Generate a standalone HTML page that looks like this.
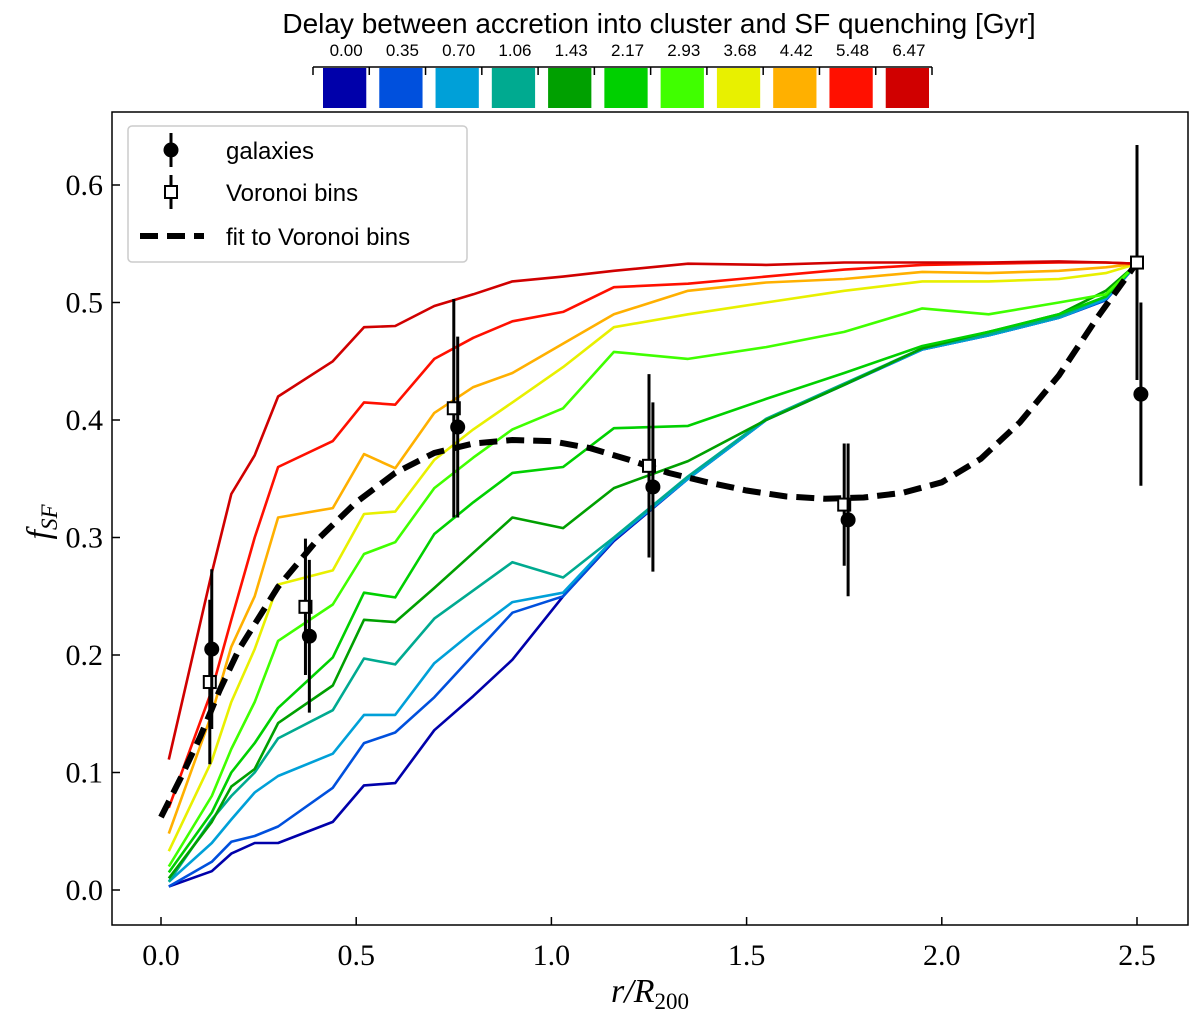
<!DOCTYPE html>
<html><head><meta charset="utf-8">
<style>
html,body{margin:0;padding:0;background:#fff;}
svg{display:block;}
</style></head>
<body>
<svg id="chart" width="1200" height="1014" viewBox="0 0 1200 1014" xmlns="http://www.w3.org/2000/svg"></svg>
<script>
const xGrid = [0.02,0.13,0.18,0.24,0.30,0.44,0.52,0.60,0.70,0.80,0.90,1.03,1.16,1.35,1.55,1.75,1.95,2.12,2.30,2.42,2.50];
const s0 = [0.003,0.016,0.031,0.040,0.040,0.058,0.089,0.091,0.136,0.165,0.196,0.250,0.297,0.350,0.400,0.430,0.460,0.472,0.487,0.502,0.533];
const s1 = [0.003,0.024,0.041,0.046,0.054,0.087,0.125,0.134,0.164,0.200,0.236,0.250,0.298,0.350,0.400,0.430,0.460,0.472,0.487,0.502,0.533];
const s2 = [0.007,0.040,0.060,0.083,0.097,0.116,0.149,0.149,0.193,0.220,0.245,0.253,0.299,0.350,0.400,0.430,0.460,0.472,0.487,0.503,0.533];
const s3 = [0.007,0.060,0.080,0.100,0.129,0.153,0.197,0.192,0.231,0.255,0.279,0.266,0.300,0.352,0.401,0.431,0.461,0.473,0.488,0.505,0.533];
const s4 = [0.010,0.058,0.088,0.103,0.142,0.174,0.230,0.228,0.257,0.287,0.317,0.308,0.342,0.365,0.400,0.430,0.461,0.475,0.490,0.510,0.533];
const s5 = [0.015,0.066,0.100,0.125,0.155,0.198,0.253,0.249,0.303,0.330,0.355,0.360,0.393,0.395,0.418,0.440,0.463,0.475,0.490,0.505,0.533];
const s6 = [0.020,0.080,0.120,0.160,0.212,0.243,0.286,0.296,0.342,0.368,0.392,0.410,0.458,0.452,0.462,0.475,0.495,0.490,0.500,0.507,0.533];
const s7 = [0.033,0.110,0.160,0.205,0.260,0.272,0.320,0.322,0.366,0.392,0.415,0.445,0.479,0.490,0.500,0.510,0.518,0.518,0.520,0.525,0.533];
const s8 = [0.048,0.150,0.207,0.250,0.317,0.325,0.371,0.359,0.406,0.428,0.440,0.465,0.490,0.510,0.517,0.520,0.526,0.525,0.527,0.530,0.533];
const s9 = [0.070,0.170,0.230,0.300,0.360,0.382,0.415,0.413,0.452,0.470,0.484,0.492,0.513,0.516,0.522,0.528,0.532,0.533,0.534,0.534,0.533];
const s10 = [0.111,0.270,0.337,0.370,0.420,0.450,0.479,0.480,0.497,0.507,0.518,0.522,0.527,0.533,0.532,0.534,0.534,0.534,0.535,0.534,0.533];
const seriesColors = ['#0000aa','#0050dd','#00a0d8','#00aa90','#00a000','#00d000','#40ff00','#e8f000','#ffb000','#ff1000','#d00000'];
const delayLabels = ['0.00','0.35','0.70','1.06','1.43','2.17','2.93','3.68','4.42','5.48','6.47'];
const galX = [0.13,0.38,0.76,1.26,1.76,2.51];
const galY = [0.205,0.216,0.394,0.343,0.315,0.422];
const galErr = [0.068,0.065,0.077,0.072,0.065,0.078];
const vorX = [0.125,0.37,0.75,1.25,1.75,2.50];
const vorY = [0.177,0.241,0.410,0.361,0.328,0.534];
const vorErr = [0.070,0.058,0.093,0.078,0.052,0.100];
const fitX = [0.0,0.05,0.1,0.15,0.2,0.3,0.4,0.5,0.6,0.7,0.8,0.9,1.0,1.1,1.2,1.3,1.4,1.5,1.6,1.7,1.8,1.9,2.0,2.1,2.2,2.3,2.4,2.5];
const fitY = [0.062,0.095,0.130,0.170,0.205,0.258,0.298,0.330,0.355,0.372,0.380,0.383,0.382,0.376,0.366,0.355,0.347,0.340,0.335,0.333,0.334,0.338,0.347,0.367,0.398,0.438,0.488,0.534];
const xTicks = [0.0,0.5,1.0,1.5,2.0,2.5];
const yTicks = [0.0,0.1,0.2,0.3,0.4,0.5,0.6];

const NS='http://www.w3.org/2000/svg';
const svg=document.getElementById('chart');
const L=112,R=1188,T=112,B=925;
const sx=v=>161+v*390.4;
const sy=v=>890-v*1175;
function mk(tag,attrs,parent){const e=document.createElementNS(NS,tag);for(const k in attrs)e.setAttribute(k,attrs[k]);(parent||svg).appendChild(e);return e;}

const frame=mk('rect',{x:L,y:T,width:R-L,height:B-T,fill:'none',stroke:'#000','stroke-width':1.5});



xTicks.forEach(t=>{
  const g=mk('g',{});
  
  
  mk('line',{x1:sx(t),x2:sx(t),y1:B,y2:B-8,stroke:'#000','stroke-width':1.5},g);
  const tx=mk('text',{x:sx(t),y:B+40,'text-anchor':'middle','font-family':'Liberation Serif, serif','font-size':30},g);
  tx.textContent=t.toFixed(1);
});
yTicks.forEach(t=>{
  const g=mk('g',{});
  
  
  mk('line',{x1:L,x2:L+8,y1:sy(t),y2:sy(t),stroke:'#000','stroke-width':1.5},g);
  const tx=mk('text',{x:L-9,y:sy(t)+10,'text-anchor':'end','font-family':'Liberation Serif, serif','font-size':30},g);
  tx.textContent=t.toFixed(1);
});
const xl=mk('text',{x:650,y:1002,'text-anchor':'middle','font-family':'Liberation Serif, serif','font-size':34,'font-style':'italic'});


xl.innerHTML='r/R<tspan font-size="23" dy="7" font-style="normal">200</tspan>';
const yl=mk('text',{x:0,y:0,'text-anchor':'middle','font-family':'Liberation Serif, serif','font-size':34,'font-style':'italic',transform:'translate(50,522) rotate(-90)'});


yl.innerHTML='f<tspan font-size="23" dy="7">SF</tspan>';

const allSeries=[s0,s1,s2,s3,s4,s5,s6,s7,s8,s9,s10];
allSeries.forEach((s,i)=>{
  const d=s.map((v,j)=>(j?'L':'M')+sx(xGrid[j]).toFixed(1)+','+sy(v).toFixed(1)).join(' ');
  const p=mk('path',{d:d,fill:'none',stroke:seriesColors[i],'stroke-width':2.6,'stroke-linejoin':'round'});
  
  
});

const fd=fitY.map((v,j)=>(j?'L':'M')+sx(fitX[j]).toFixed(1)+','+sy(v).toFixed(1)).join(' ');
const fp=mk('path',{d:fd,fill:'none',stroke:'#000','stroke-width':6,'stroke-dasharray':'18,9'});



vorX.forEach((x,i)=>{
  const g=mk('g',{});
  
  
  mk('line',{x1:sx(x),x2:sx(x),y1:sy(vorY[i]-vorErr[i]),y2:sy(vorY[i]+vorErr[i]),stroke:'#000','stroke-width':3},g);
  mk('rect',{x:sx(x)-6,y:sy(vorY[i])-6,width:12,height:12,fill:'#fff',stroke:'#000','stroke-width':2},g);
});
galX.forEach((x,i)=>{
  const g=mk('g',{});
  
  
  mk('line',{x1:sx(x),x2:sx(x),y1:sy(galY[i]-galErr[i]),y2:sy(galY[i]+galErr[i]),stroke:'#000','stroke-width':3},g);
  mk('circle',{cx:sx(x),cy:sy(galY[i]),r:7.5,fill:'#000'},g);
});

const lg=mk('g',{});


mk('rect',{x:128,y:126,width:339,height:136,rx:4,fill:'#fff',stroke:'#ccc','stroke-width':1.5},lg);
const le1=mk('g',{},lg);


mk('line',{x1:171,x2:171,y1:133,y2:167,stroke:'#000','stroke-width':3},le1);
mk('circle',{cx:171,cy:150,r:7.5,fill:'#000'},le1);
mk('text',{x:226,y:159,'font-family':'Liberation Sans, sans-serif','font-size':24},le1).textContent='galaxies';
const le2=mk('g',{},lg);


mk('line',{x1:171,x2:171,y1:175,y2:209,stroke:'#000','stroke-width':3},le2);
mk('rect',{x:165,y:186,width:12,height:12,fill:'#fff',stroke:'#000','stroke-width':2},le2);
mk('text',{x:226,y:201,'font-family':'Liberation Sans, sans-serif','font-size':24},le2).textContent='Voronoi bins';
const le3=mk('g',{},lg);


mk('line',{x1:140,x2:204,y1:236,y2:236,stroke:'#000','stroke-width':6,'stroke-dasharray':'18,9'},le3);
mk('text',{x:226,y:245,'font-family':'Liberation Sans, sans-serif','font-size':24},le3).textContent='fit to Voronoi bins';

const cb=mk('g',{});


const ct=mk('text',{x:659,y:33,'text-anchor':'middle','font-family':'Liberation Sans, sans-serif','font-size':28},cb);
ct.textContent='Delay between accretion into cluster and SF quenching [Gyr]';

mk('line',{x1:313,x2:932,y1:67,y2:67,stroke:'#000','stroke-width':1.5},cb);
const step=(932-313)/11;
for(let k=0;k<=11;k++){mk('line',{x1:313+k*step,x2:313+k*step,y1:67,y2:75,stroke:'#000','stroke-width':1.5},cb);}
seriesColors.forEach((c,i)=>{
  const r=mk('rect',{x:313+i*step+10,y:68,width:step-13,height:40,fill:c},cb);
  
  
  const t=mk('text',{x:313+i*step+step/2+5,y:56,'text-anchor':'middle','font-family':'Liberation Sans, sans-serif','font-size':17},cb);
  t.textContent=delayLabels[i];
});
</script>
</body></html>
